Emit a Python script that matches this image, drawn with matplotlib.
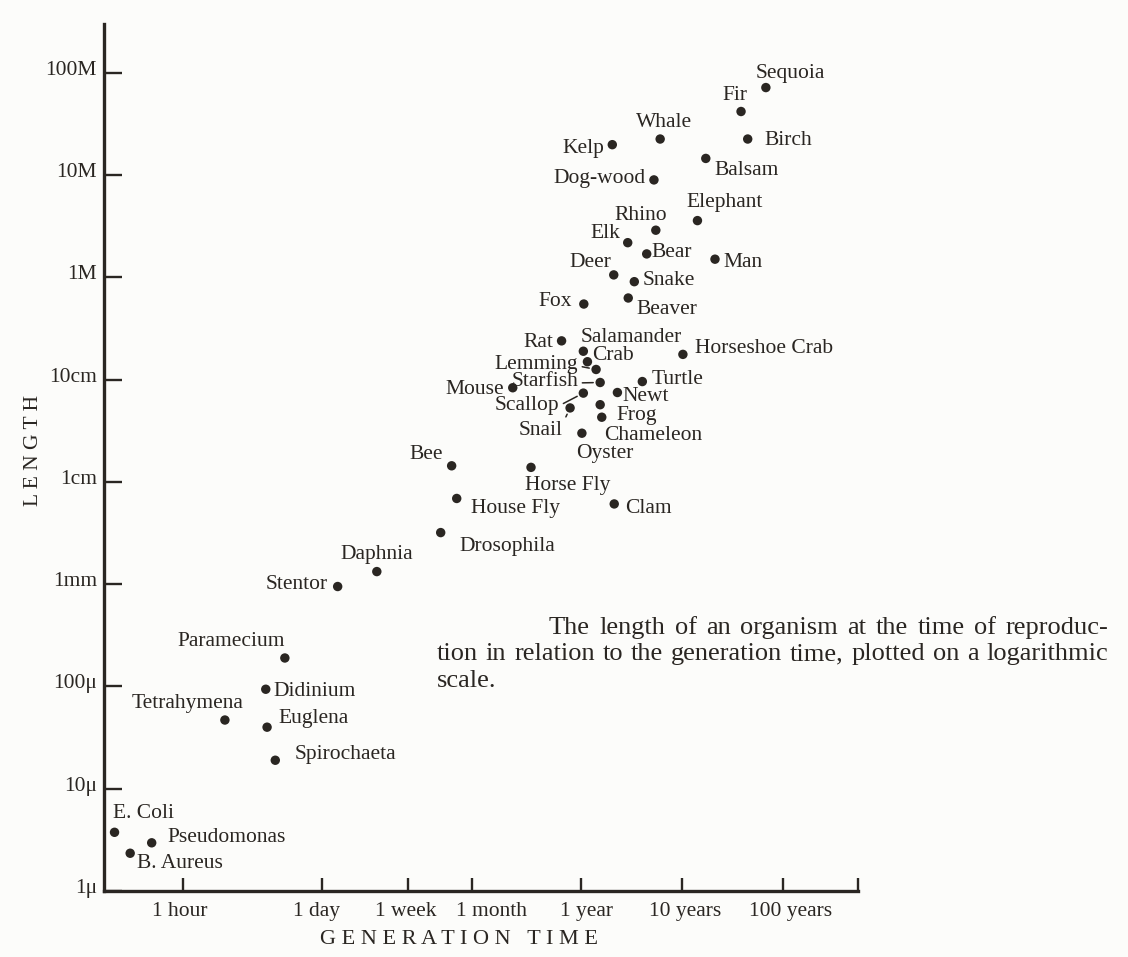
import numpy as np
import matplotlib
matplotlib.use('Agg')
import matplotlib.pyplot as plt

# organism, generation time (hours), length at reproduction (metres)
names = ['Sequoia', 'Fir', 'Whale', 'Birch', 'Kelp', 'Balsam', 'Dog-wood',
         'Elephant', 'Rhino', 'Elk', 'Bear', 'Man', 'Deer', 'Snake', 'Fox',
         'Beaver', 'Rat', 'Salamander', 'Crab', 'Lemming', 'Starfish', 'Mouse',
         'Scallop', 'Snail', 'Turtle', 'Newt', 'Frog', 'Chameleon', 'Oyster',
         'Horseshoe Crab', 'Bee', 'Horse Fly', 'House Fly', 'Clam', 'Drosophila',
         'Daphnia', 'Stentor', 'Paramecium', 'Didinium', 'Tetrahymena',
         'Euglena', 'Spirochaeta', 'E. Coli', 'Pseudomonas', 'B. Aureus']
gen_hours = [5.9e5, 3.35e5, 5.3e4, 3.9e5, 1.78e4, 1.5e5, 4.6e4,
             1.24e5, 4.8e4, 2.53e4, 3.9e4, 1.85e5, 1.84e4, 2.94e4, 9.3e3,
             2.56e4, 5.6e3, 9.2e3, 1.01e4, 1.23e4, 1.35e4, 1.84e3,
             9.2e3, 6.8e3, 3.53e4, 2.0e4, 1.35e4, 1.4e4, 8.9e3,
             8.9e4, 457, 2790, 513, 1.86e4, 356,
             83, 34, 10.2, 6.6, 2.6,
             6.8, 8.2, 0.21, 0.49, 0.30]
length_m = [72, 42, 22.6, 22.6, 19.9, 14.6, 9.0,
            3.6, 2.9, 2.19, 1.70, 1.51, 1.06, 0.91, 0.55,
            0.63, 0.24, 0.19, 0.150, 0.126, 0.094, 0.0835,
            0.074, 0.053, 0.096, 0.075, 0.057, 0.043, 0.030,
            0.177, 0.0144, 0.0139, 0.0069, 0.0061, 0.0032,
            1.33e-3, 9.5e-4, 1.9e-4, 9.4e-5, 4.7e-5,
            4.0e-5, 1.9e-5, 3.75e-6, 2.96e-6, 2.34e-6]

xtick_vals = [1, 24, 168, 730, 8766, 87660, 876600]
xtick_text = ['1 hour', '1 day', '1 week', '1 month', '1 year', '10 years', '100 years']
ytick_vals = [1e-6, 1e-5, 1e-4, 1e-3, 1e-2, 1e-1, 1, 10, 100]
ytick_text = ['1\u03bc', '10\u03bc', '100\u03bc', '1mm', '1cm', '10cm', '1M', '10M', '100M']

caption = ['The length of an organism at the time of reproduc-',
           'tion in relation to the generation time, plotted on a logarithmic',
           'scale.']

# label placement (pixels from the dot: dx, dy, horizontal alignment)
lab_pos = {
    'Sequoia': (-10, 10, 'left'), 'Fir': (-19, 12, 'left'), 'Whale': (-24, 12, 'left'),
    'Birch': (17, -6, 'left'), 'Kelp': (-8, -8, 'right'), 'Balsam': (9, -17, 'left'),
    'Dog-wood': (-8, -3, 'right'), 'Elephant': (-11, 14, 'left'), 'Rhino': (-41, 10, 'left'),
    'Elk': (-7, 5, 'right'), 'Bear': (5, -3, 'left'), 'Man': (8, -8, 'left'),
    'Deer': (-2, 8, 'right'), 'Snake': (8, -3, 'left'), 'Fox': (-12, -2, 'right'),
    'Beaver': (8, -16, 'left'), 'Rat': (-8, -6, 'right'), 'Salamander': (-3, 9, 'left'),
    'Crab': (5, 2, 'left'), 'Lemming': (-18, 0, 'right'), 'Starfish': (-22, -4, 'right'),
    'Mouse': (-9, -6, 'right'), 'Scallop': (-24, -17, 'right'), 'Snail': (-7, -27, 'right'),
    'Turtle': (9, -2, 'left'), 'Newt': (5, -8, 'left'), 'Frog': (16, -15, 'left'),
    'Chameleon': (2, -23, 'left'), 'Oyster': (-6, -25, 'left'),
    'Horseshoe Crab': (12, 1, 'left'), 'Bee': (-9, 7, 'right'), 'Horse Fly': (-6, -23, 'left'),
    'House Fly': (14, -15, 'left'), 'Clam': (11, -9, 'left'), 'Drosophila': (19, -18, 'left'),
    'Daphnia': (-36, 13, 'left'), 'Stentor': (-10, -2, 'right'), 'Paramecium': (0, 12, 'right'),
    'Didinium': (8, -7, 'left'), 'Tetrahymena': (19, 12, 'right'), 'Euglena': (11, 4, 'left'),
    'Spirochaeta': (19, 1, 'left'), 'E. Coli': (-2, 14, 'left'), 'Pseudomonas': (16, 1, 'left'),
    'B. Aureus': (7, -15, 'left'),
}
leaders = {'Lemming': (1, 0.45), 'Starfish': (1, 0.45), 'Scallop': (1, 0.5), 'Snail': (1, 0.9)}
xlab_dx = [-3, -6, -2, 19, 5, 3, 7]

ink = '#2a2622'
paper = '#fcfcfa'
FONT = 'Liberation Serif'
FS = 15.5

W, H = 1128, 957
fig = plt.figure(figsize=(W / 100, H / 100), dpi=100, facecolor=paper)
ax = fig.add_axes([104 / W, 1 - 891 / H, 754 / W, 867 / H])
ax.set_facecolor(paper)
ax.set_xscale('log')
ax.set_yscale('log')
xmax = 10 ** 6.683
ax.set_xlim(10 ** -0.782, xmax)
ax.set_ylim(1e-6, 10 ** 2.479)

for s in ['top', 'right']:
    ax.spines[s].set_visible(False)
for s in ['left', 'bottom']:
    ax.spines[s].set_color(ink)
    ax.spines[s].set_linewidth(2.4)

ax.set_xticks(xtick_vals + [xmax])
ax.set_xticklabels([])
ax.set_yticks(ytick_vals)
ax.set_yticklabels([])
ax.minorticks_off()
ax.tick_params(axis='y', direction='in', length=13, width=1.7, color=ink)
ax.tick_params(axis='x', direction='in', length=9.5, width=1.7, color=ink)

for v, t, d in zip(xtick_vals, xtick_text, xlab_dx):
    ax.annotate(t, xy=(v, 0), xycoords=('data', 'axes fraction'), xytext=(d, -25),
                textcoords='offset pixels', ha='center', va='baseline',
                fontsize=FS, family=FONT, color=ink, annotation_clip=False)
for v, t in zip(ytick_vals, ytick_text):
    ax.annotate(t, xy=(0, v), xycoords=('axes fraction', 'data'), xytext=(-7, -2),
                textcoords='offset pixels', ha='right', va='baseline',
                fontsize=FS, family=FONT, color=ink, annotation_clip=False)

ax.scatter(gen_hours, length_m, s=46, color=ink, edgecolors='none', zorder=3, clip_on=False)

for n, gx, ly in zip(names, gen_hours, length_m):
    dx, dy, ha = lab_pos[n]
    kw = {}
    if n in leaders:
        kw['arrowprops'] = dict(arrowstyle='-', color=ink, lw=1.1, shrinkA=1, shrinkB=5,
                                relpos=leaders[n])
    ax.annotate(n, xy=(gx, ly), xytext=(dx, dy), textcoords='offset pixels',
                ha=ha, va='baseline', fontsize=FS, family=FONT, color=ink,
                annotation_clip=False, **kw)

fig.text(459 / W, 1 - 944 / H, 'G E N E R A T I O N   T I M E', ha='center', va='baseline',
         fontsize=16, family=FONT, color=ink)
fig.text(33 / W, 1 - 450 / H, 'L E N G T H', ha='center', va='center', rotation=90,
         fontsize=15.5, family=FONT, color=ink)

# caption, justified between x0 and x1
renderer = fig.canvas.get_renderer()
cap_fs = 19
cap_lines = [(549, 1108, 634, True), (437, 1108, 660, True), (437, 1108, 687, False)]
for line, (x0, x1, yb, just) in zip(caption, cap_lines):
    words = line.split()
    widths = []
    for w in words:
        t = fig.text(0, 0, w, fontsize=cap_fs, family=FONT)
        widths.append(t.get_window_extent(renderer).width)
        t.remove()
    if just and len(words) > 1:
        gap = (x1 - x0 - sum(widths)) / (len(words) - 1)
    else:
        gap = 6
    x = x0
    for w, wd in zip(words, widths):
        fig.text(x / W, 1 - yb / H, w, ha='left', va='baseline', fontsize=cap_fs,
                 family=FONT, color=ink)
        x += wd + gap

fig.savefig('out.png', dpi=100, facecolor=paper)
